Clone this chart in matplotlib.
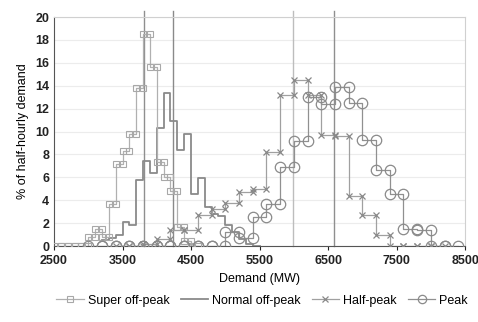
import numpy as np
import matplotlib.pyplot as plt

plt.rcParams['font.family'] = ['Liberation Sans', 'DejaVu Sans']

# % of half-hourly demand per demand bin (bin start MW, bin width MW, values)
super_start, super_width = 2500, 100
super_vals = [0, 0, 0, 0, 0, 0.8, 1.5, 0.8, 3.7, 7.2, 8.3, 9.8, 13.8, 18.5,
              15.6, 7.3, 6.0, 4.8, 1.7, 0.4, 0]

normal_start, normal_width = 3200, 100
normal_vals = [0.5, 0.7, 1.0, 2.1, 1.8, 5.8, 7.4, 6.4, 10.3, 13.4, 10.9, 8.4,
               9.8, 4.5, 5.9, 3.4, 2.8, 2.6, 1.8, 1.2, 0.6, 0.2, 0]

half_start, half_width = 3400, 200
half_vals = [0, 0, 0.2, 0.6, 1.4, 1.4, 2.7, 3.2, 3.8, 4.7, 5.0, 8.2, 13.2,
             14.5, 13.2, 9.7, 9.6, 4.4, 2.7, 1.0, 0, 0, 0, 0]

peak_start, peak_width = 3000, 200
peak_vals = [0, 0, 0, 0, 0, 0, 0, 0, 0, 0, 1.2, 0.7, 2.5, 3.7, 6.9, 9.2, 13.0,
             12.4, 13.9, 12.5, 9.3, 6.6, 4.5, 1.5, 1.4, 0, 0]

# mean demand of each period (vertical lines)
means = [3810, 4240, 5990, 6580]
mean_colors = ['#8f8f8f', '#8a8a8a', '#bdbdbd', '#8f8f8f']


def steps(start, width, vals):
    xs, ys = [], []
    for i, v in enumerate(vals):
        left = start + i * width
        xs += [left, left + width]
        ys += [v, v]
    return np.array(xs), np.array(ys)


fig = plt.figure(figsize=(4.78, 3.22), dpi=100)
ax = fig.add_axes([0.113, 0.236, 0.86, 0.711])

for m, c in zip(means, mean_colors):
    ax.plot([m, m], [0, 20.5], color=c, lw=1.0, clip_on=False, zorder=1)

x, y = steps(normal_start, normal_width, normal_vals)
ax.plot(x, y, color='#8a8a8a', lw=1.3, label='Normal off-peak', zorder=3)

x, y = steps(super_start, super_width, super_vals)
ax.plot(x, y, color='#b0b0b0', lw=0.9, marker='s', ms=5, mfc='none',
        mec='#a8a8a8', mew=0.8, label='Super off-peak', zorder=4)

x, y = steps(half_start, half_width, half_vals)
ax.plot(x, y, color='#a0a0a0', lw=0.9, marker='x', ms=5, mec='#888888',
        mew=0.9, label='Half-peak', zorder=4)

x, y = steps(peak_start, peak_width, peak_vals)
ax.plot(x, y, color='#909090', lw=0.9, marker='o', ms=7.5, mfc='none',
        mec='#8a8a8a', mew=0.9, label='Peak', zorder=4)

ax.set_xlim(2500, 8500)
ax.set_ylim(0, 20)
ax.set_xticks(np.arange(2500, 8501, 1000))
ax.set_yticks(np.arange(0, 21, 2))
ax.grid(axis='y', color='#ececec', lw=0.8)
ax.set_axisbelow(True)

for s in ['top', 'right']:
    ax.spines[s].set_color('#d0d0d0')
ax.spines['left'].set_color('#555555')
ax.spines['bottom'].set_color('#555555')
ax.tick_params(axis='both', labelsize=9, colors='#222222', length=3, width=0.8)
ax.tick_params(axis='y', length=0)
for lbl in ax.get_xticklabels() + ax.get_yticklabels():
    lbl.set_fontweight('bold')

ax.set_xlabel('Demand (MW)', fontsize=9, labelpad=4)
ax.set_ylabel('% of half-hourly demand', fontsize=9, labelpad=4)

handles, labels = ax.get_legend_handles_labels()
order = [1, 0, 2, 3]
fig.legend([handles[i] for i in order], [labels[i] for i in order],
           loc='center', bbox_to_anchor=(0.548, 0.066), ncol=4, frameon=False,
           fontsize=9, handlelength=2.2, handletextpad=0.3, columnspacing=0.9,
           markerscale=0.8)

fig.savefig('out.png', dpi=100)
